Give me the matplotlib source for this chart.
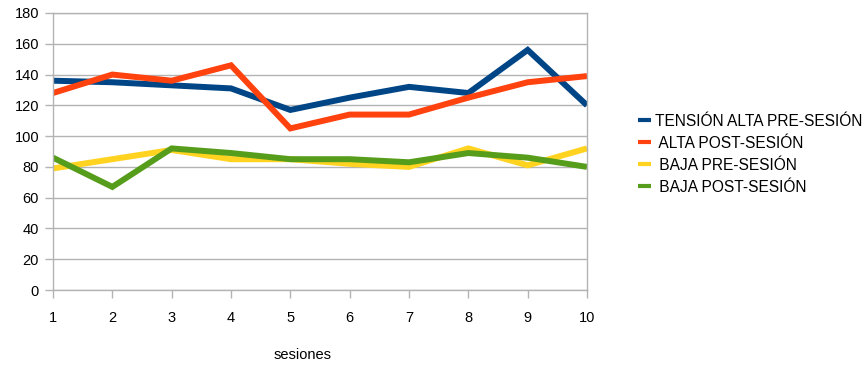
import matplotlib
matplotlib.use("Agg")
import matplotlib.pyplot as plt

plt.rcParams['font.family'] = ['Liberation Sans', 'DejaVu Sans']

sesiones = [1, 2, 3, 4, 5, 6, 7, 8, 9, 10]
alta_pre = [136, 135, 133, 131, 117, 125, 132, 128, 156, 120]
alta_post = [128, 140, 136, 146, 105, 114, 114, 125, 135, 139]
baja_pre = [79, 85, 91, 85, 85, 82, 80, 92, 81, 92]
baja_post = [86, 67, 92, 89, 85, 85, 83, 89, 86, 80]

series = [
    ("TENSIÓN ALTA PRE-SESIÓN", alta_pre, "#004586"),
    (" ALTA POST-SESIÓN", alta_post, "#ff420e"),
    (" BAJA PRE-SESIÓN", baja_pre, "#ffd320"),
    (" BAJA POST-SESIÓN", baja_post, "#579d1c"),
]

fig = plt.figure(figsize=(8.65, 3.66), dpi=100)
ax = fig.add_axes([53 / 865, 1 - 290 / 366, (587 - 53) / 865, (290 - 13) / 366])

for label, vals, color in series:
    ax.plot(sesiones, vals, color=color, lw=4.3, label=label,
            solid_joinstyle='miter', solid_capstyle='butt')

ax.set_xlim(1, 10)
ax.set_ylim(0, 180)
ax.set_xticks(sesiones)
ax.set_yticks(range(0, 181, 20))
ax.yaxis.grid(True, color="#b3b3b3", lw=1)
ax.set_axisbelow(True)
for side in ["left", "right", "bottom", "top"]:
    ax.spines[side].set_color("#b3b3b3")
    ax.spines[side].set_linewidth(1)
ax.tick_params(axis='both', colors="#b3b3b3", labelcolor="#000000",
               length=6, width=1, labelsize=10.5)
ax.tick_params(axis='x', pad=9)
ax.tick_params(axis='y', pad=4)

ax.set_xlabel("sesiones", fontsize=10.5)
ax.xaxis.set_label_coords(0.468, -0.21)

leg = fig.legend(loc="center left", bbox_to_anchor=(624 / 865, 1 - 154 / 366),
                 frameon=False, fontsize=11.2, handlelength=0.85,
                 handletextpad=0.25, labelspacing=0.45)
for line in leg.get_lines():
    line.set_linewidth(3)

fig.savefig("out.png", dpi=100)
